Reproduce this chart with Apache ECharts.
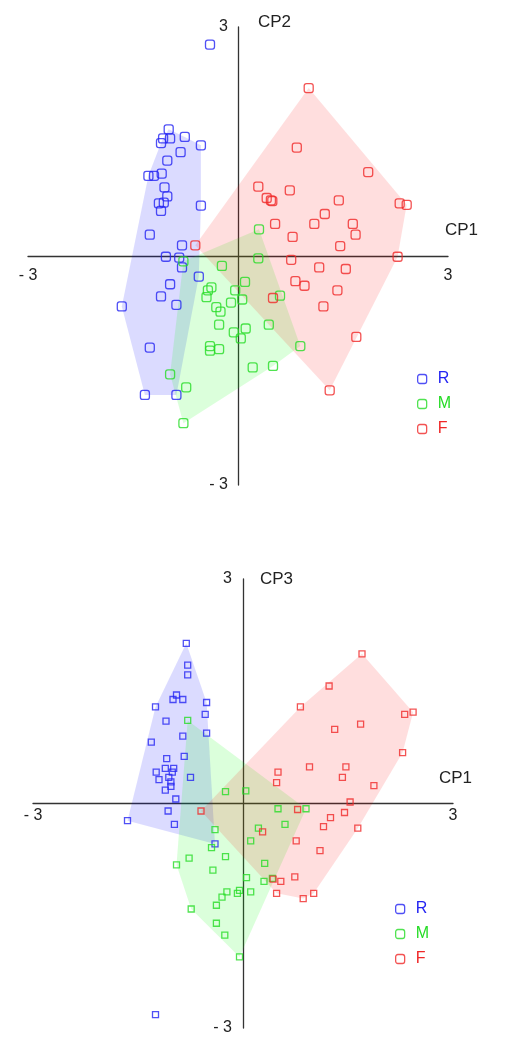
<!DOCTYPE html>
<html>
<head>
<meta charset="utf-8">
<script src="https://cdn.jsdelivr.net/npm/echarts@6/dist/echarts.min.js"></script>
<style>
html, body { margin: 0; padding: 0; background: #fff; }
#chart { width: 505px; height: 1040px; }
</style>
</head>
<body>
<div id="chart"></div>
<script>
// groups
var groups = ['R', 'M', 'F'];
var tickValues = [-3, 0, 3];

// CP1 x CP2
var r12 = [[-0.99,1.66],[-1.07,1.54],[-0.97,1.54],[-1.10,1.48],[-0.76,1.56],[-0.53,1.45],[-0.82,1.36],[-1.01,1.25],
  [-1.28,1.05],[-1.20,1.05],[-1.09,1.08],[-1.05,0.90],[-1.01,0.78],[-1.13,0.69],[-1.06,0.70],[-1.10,0.59],[-0.53,0.66],
  [-1.26,0.28],[-0.80,0.14],[-1.03,-0.01],[-0.84,-0.02],[-0.80,-0.15],[-0.56,-0.27],[-0.97,-0.37],[-1.10,-0.53],
  [-0.88,-0.64],[-1.66,-0.66],[-1.26,-1.20],[-1.33,-1.82],[-0.88,-1.82]];
var r12Outliers = [[-0.40,2.77]];
var m12 = [[0.30,0.35],[0.29,-0.03],[-0.78,-0.07],[-0.23,-0.13],[0.10,-0.34],[-0.38,-0.41],[-0.43,-0.45],[-0.45,-0.54],
  [-0.04,-0.45],[0.06,-0.57],[-0.10,-0.61],[0.60,-0.52],[-0.31,-0.67],[-0.25,-0.73],[-0.27,-0.90],[0.44,-0.90],
  [0.11,-0.95],[-0.06,-1.00],[0.04,-1.08],[-0.40,-1.18],[-0.40,-1.24],[-0.27,-1.22],[0.89,-1.18],[0.21,-1.46],
  [0.50,-1.44],[-0.97,-1.55],[-0.74,-1.72],[-0.78,-2.19]];
var f12 = [[1.01,2.20],[0.84,1.42],[1.86,1.10],[0.29,0.91],[0.74,0.86],[0.41,0.76],[0.47,0.73],[0.49,0.72],[1.44,0.73],
  [2.31,0.69],[2.41,0.67],[1.24,0.55],[1.09,0.42],[0.53,0.42],[1.64,0.42],[1.68,0.28],[0.78,0.25],[1.46,0.13],
  [-0.61,0.14],[2.28,-0.01],[0.76,-0.05],[1.16,-0.15],[1.54,-0.17],[0.82,-0.33],[0.95,-0.39],[1.42,-0.45],
  [0.50,-0.55],[1.22,-0.66],[1.69,-1.06],[1.31,-1.76]];

// CP1 x CP3
var r13 = [[-0.81,2.14],[-0.79,1.85],[-0.79,1.72],[-0.95,1.45],[-1.00,1.39],[-0.86,1.39],[-1.25,1.29],[-0.52,1.35],
  [-0.54,1.19],[-1.10,1.10],[-0.52,0.94],[-0.86,0.90],[-1.31,0.82],[-0.84,0.63],[-1.09,0.60],[-1.11,0.47],[-0.99,0.47],
  [-1.24,0.42],[-1.01,0.42],[-1.06,0.35],[-1.20,0.32],[-1.03,0.29],[-0.75,0.35],[-1.03,0.23],[-1.11,0.18],[-0.96,0.06],
  [-1.07,-0.10],[-1.65,-0.23],[-0.98,-0.28],[-0.40,-0.54]];
var r13Outliers = [[-1.25,-2.82]];
var m13 = [[-0.79,1.11],[-0.25,0.16],[0.04,0.17],[0.50,-0.07],[0.90,-0.07],[0.60,-0.28],[0.22,-0.33],[-0.40,-0.35],
  [0.11,-0.50],[-0.45,-0.59],[-0.25,-0.71],[-0.77,-0.73],[-0.95,-0.82],[-0.43,-0.89],[0.31,-0.80],[0.05,-0.99],
  [0.30,-1.04],[0.42,-1.00],[-0.23,-1.18],[-0.05,-1.16],[-0.08,-1.20],[0.11,-1.18],[-0.30,-1.25],[-0.38,-1.36],
  [-0.74,-1.41],[-0.38,-1.60],[-0.26,-1.76],[-0.05,-2.05]];
var f13 = [[1.70,2.00],[1.23,1.57],[0.82,1.29],[2.31,1.19],[2.43,1.22],[1.68,1.06],[1.31,0.99],[2.28,0.68],[0.95,0.49],
  [1.47,0.49],[0.50,0.42],[1.42,0.35],[0.48,0.28],[1.87,0.24],[1.53,0.02],[-0.60,-0.10],[0.78,-0.08],[1.25,-0.19],
  [1.45,-0.12],[1.15,-0.31],[1.64,-0.33],[0.28,-0.38],[0.76,-0.50],[1.10,-0.63],[0.74,-0.98],[0.43,-1.01],
  [0.54,-1.04],[0.48,-1.20],[0.86,-1.27],[1.01,-1.20]];

var colors = { R: '#2424f2', M: '#26dc26', F: '#f02828' };
var hullFill = { R: 'rgba(0,0,255,0.14)', M: 'rgba(0,255,0,0.14)', F: 'rgba(255,0,0,0.13)' };
var font = '"Liberation Sans", Arial, sans-serif';

// monotone chain convex hull
function hull(pts) {
  var p = pts.slice().sort(function (a, b) { return a[0] - b[0] || a[1] - b[1]; });
  function cross(o, a, b) { return (a[0] - o[0]) * (b[1] - o[1]) - (a[1] - o[1]) * (b[0] - o[0]); }
  var lower = [], upper = [];
  p.forEach(function (q) {
    while (lower.length >= 2 && cross(lower[lower.length - 2], lower[lower.length - 1], q) <= 0) lower.pop();
    lower.push(q);
  });
  p.slice().reverse().forEach(function (q) {
    while (upper.length >= 2 && cross(upper[upper.length - 2], upper[upper.length - 1], q) <= 0) upper.pop();
    upper.push(q);
  });
  return lower.slice(0, -1).concat(upper.slice(0, -1));
}

function hullSeries(name, pts, idx) {
  var h = hull(pts);
  return {
    type: 'custom', xAxisIndex: idx, yAxisIndex: idx, silent: true, z: 1,
    data: h,
    renderItem: function (params, api) {
      if (params.dataIndex !== 0) return null;
      return {
        type: 'polygon',
        shape: { points: h.map(function (q) { return api.coord(q); }) },
        style: { fill: hullFill[name], stroke: null }
      };
    }
  };
}

function scatterSeries(name, pts, idx, symbol, size) {
  return {
    name: name, type: 'scatter', xAxisIndex: idx, yAxisIndex: idx, z: 3,
    symbol: symbol, symbolSize: size, data: pts,
    itemStyle: { color: 'rgba(255,255,255,0)', borderColor: colors[name], borderWidth: 1.3 },
    emphasis: { disabled: true }
  };
}

function tickText(v) { return v < 0 ? '- 3' : (v > 0 ? '3' : ''); }

// axes drawn through the centre of each grid (labels don't follow onZero here)
function xAx(idx, nameText, labelMargin, nameGap, off) {
  return {
    gridIndex: idx, type: 'value', min: -3, max: 3, interval: 3,
    position: 'bottom', offset: off,
    name: nameText, nameLocation: 'end', nameGap: nameGap,
    nameTextStyle: { fontSize: 17, color: '#222', fontFamily: font, align: 'left', verticalAlign: 'bottom', padding: [0, 0, 17, 0] },
    axisLine: { onZero: false, lineStyle: { color: '#333', width: 1.3 } },
    axisTick: { show: false }, splitLine: { show: false },
    axisLabel: { formatter: tickText, margin: labelMargin, fontSize: 16, color: '#222', fontFamily: font, showMinLabel: true, showMaxLabel: true }
  };
}

function yAx(idx, nameText, namePad, nameGap, labelMargin, off) {
  return {
    gridIndex: idx, type: 'value', min: -3, max: 3, interval: 3,
    position: 'left', offset: off,
    name: nameText, nameLocation: 'end', nameGap: nameGap,
    nameTextStyle: { fontSize: 17, color: '#222', fontFamily: font, align: 'left', verticalAlign: 'middle', padding: [0, 0, 0, namePad] },
    axisLine: { onZero: false, lineStyle: { color: '#333', width: 1.3 } },
    axisTick: { show: false }, splitLine: { show: false },
    axisLabel: { formatter: tickText, margin: labelMargin, fontSize: 16, color: '#222', fontFamily: font, showMinLabel: true, showMaxLabel: true }
  };
}

function legendAt(left, top) {
  return {
    orient: 'vertical', left: left, top: top, itemWidth: 9, itemHeight: 9, itemGap: 9,
    icon: 'roundRect', selectedMode: false,
    itemStyle: { color: 'rgba(255,255,255,0)', borderWidth: 1.3 },
    textStyle: { fontSize: 16, lineHeight: 16, fontFamily: font, padding: [0, 0, 0, 6] },
    data: groups.map(function (g) { return { name: g, textStyle: { color: colors[g] } }; })
  };
}

var chart = echarts.init(document.getElementById('chart'), null, { renderer: 'canvas' });
var option = {
  backgroundColor: '#fff',
  animation: false,
  grid: [
    { left: 28, top: 27, width: 420, height: 458 },
    { left: 33, top: 579, width: 420, height: 449 }
  ],
  xAxis: [xAx(0, 'CP1', 12, -3, -229), xAx(1, 'CP1', 4, -14, -224.5)],
  yAxis: [yAx(0, 'CP2', 20, 5, 10, -210), yAx(1, 'CP3', 17, 0, 11, -210)],
  legend: [legendAt(412, 366), legendAt(390, 896)],
  series: [
    hullSeries('R', r12, 0), hullSeries('M', m12, 0), hullSeries('F', f12, 0),
    scatterSeries('R', r12.concat(r12Outliers), 0, 'roundRect', 9),
    scatterSeries('M', m12, 0, 'roundRect', 9),
    scatterSeries('F', f12, 0, 'roundRect', 9),
    hullSeries('R', r13, 1), hullSeries('M', m13, 1), hullSeries('F', f13, 1),
    scatterSeries('R', r13.concat(r13Outliers), 1, 'rect', 6),
    scatterSeries('M', m13, 1, 'rect', 6),
    scatterSeries('F', f13, 1, 'rect', 6)
  ]
};
chart.setOption(option);
</script>
</body>
</html>
